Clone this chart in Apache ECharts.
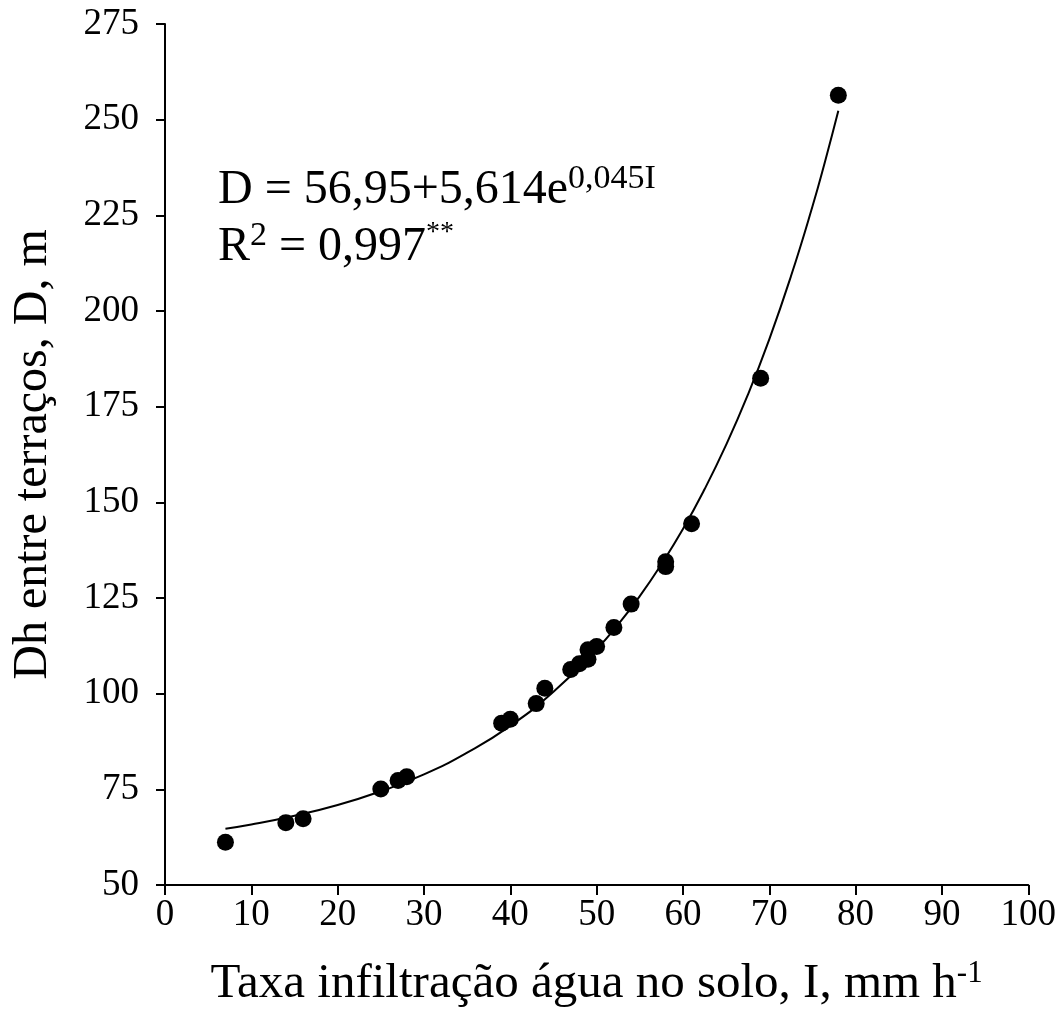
<!DOCTYPE html>
<html>
<head>
<meta charset="utf-8">
<script src="https://cdn.jsdelivr.net/npm/echarts@6/dist/echarts.min.js"></script>
<style>
  html, body { margin: 0; padding: 0; background: #fff; }
  #chart { width: 1059px; height: 1018px; }
</style>
</head>
<body>
<div id="chart"></div>
<script>
// pontos observados (taxa de infiltração I, espaçamento D)
var infil = [7, 14, 16, 25, 27, 28, 39, 40, 43, 44, 47, 48, 49, 49, 50, 52, 54, 58, 58, 61, 69, 78];
var dist = [61.2, 66.3, 67.3, 75.1, 77.3, 78.3, 92.3, 93.3, 97.4, 101.4, 106.3, 107.8, 109.0, 111.5, 112.3, 117.3, 123.4, 134.5, 133.2, 144.4, 182.4, 256.4];

// curva ajustada
var curveX = [7, 10, 15, 20, 25, 30, 35, 40, 45, 50, 52.5, 55, 57.5, 60, 62.5, 65, 67.5, 70, 72.5, 75, 76.5, 78];
var curveY = [64.7, 65.8, 68.1, 70.9, 74.5, 78.9, 84.6, 91.6, 100.5, 111.6, 118.1, 125.5, 133.8, 143.0, 153.4, 165.0, 178.0, 192.6, 209.0, 227.3, 239.4, 252.3];

var xTicks = { min: 0, max: 100, interval: 10 };
var yTicks = { min: 50, max: 275, interval: 25 };

var FONT = "Liberation Serif";

var pts = infil.map(function (v, i) { return [v, dist[i]]; });
var fit = curveX.map(function (v, i) { return [v, curveY[i]]; });

var chart = echarts.init(document.getElementById("chart"));
chart.setOption({
  animation: false,
  backgroundColor: "#fff",
  grid: { left: 165, right: 30, top: 24, bottom: 133 },
  xAxis: {
    type: "value",
    min: xTicks.min,
    max: xTicks.max,
    interval: xTicks.interval,
    name: "{a|Taxa infiltração água no solo, I, mm h}{s|-1}",
    nameLocation: "middle",
    nameGap: 73,
    nameTextStyle: {
      rich: {
        a: { fontFamily: FONT, fontSize: 49, color: "#000", lineHeight: 52 },
        s: { fontFamily: FONT, fontSize: 31, color: "#000", lineHeight: 30, verticalAlign: "top" }
      }
    },
    axisLine: { show: true, onZero: false, lineStyle: { color: "#000", width: 2 } },
    axisTick: { show: true, inside: false, length: 10, lineStyle: { color: "#000", width: 2 } },
    axisLabel: { fontFamily: FONT, fontSize: 37, color: "#000", margin: 12 },
    splitLine: { show: false }
  },
  yAxis: {
    type: "value",
    min: yTicks.min,
    max: yTicks.max,
    interval: yTicks.interval,
    name: "Dh entre terraços, D, m",
    nameLocation: "middle",
    nameGap: 108,
    nameTextStyle: { fontFamily: FONT, fontSize: 48, color: "#000" },
    axisLine: { show: true, onZero: false, lineStyle: { color: "#000", width: 2 } },
    axisTick: { show: true, inside: false, length: 9, lineStyle: { color: "#000", width: 2 } },
    axisLabel: { fontFamily: FONT, fontSize: 37, color: "#000", margin: 26 },
    splitLine: { show: false }
  },
  graphic: [
    {
      type: "text",
      left: 218,
      top: 162,
      style: {
        text: "{a|D = 56,95+5,614e}{s|0,045I}\n{a|R}{s|2}{a| = 0,997}{t|**}",
        rich: {
          a: { fontFamily: FONT, fontSize: 48, fill: "#000", lineHeight: 57 },
          s: { fontFamily: FONT, fontSize: 34, fill: "#000", lineHeight: 54, verticalAlign: "top" },
          t: { fontFamily: FONT, fontSize: 28, fill: "#000", lineHeight: 30, verticalAlign: "top" }
        }
      }
    }
  ],
  series: [
    {
      type: "line",
      data: fit,
      smooth: true,
      showSymbol: false,
      symbol: "none",
      lineStyle: { color: "#000", width: 2 },
      z: 2
    },
    {
      type: "scatter",
      data: pts,
      symbol: "circle",
      symbolSize: 17,
      itemStyle: { color: "#000", opacity: 1 },
      z: 3
    }
  ]
});
</script>
</body>
</html>
